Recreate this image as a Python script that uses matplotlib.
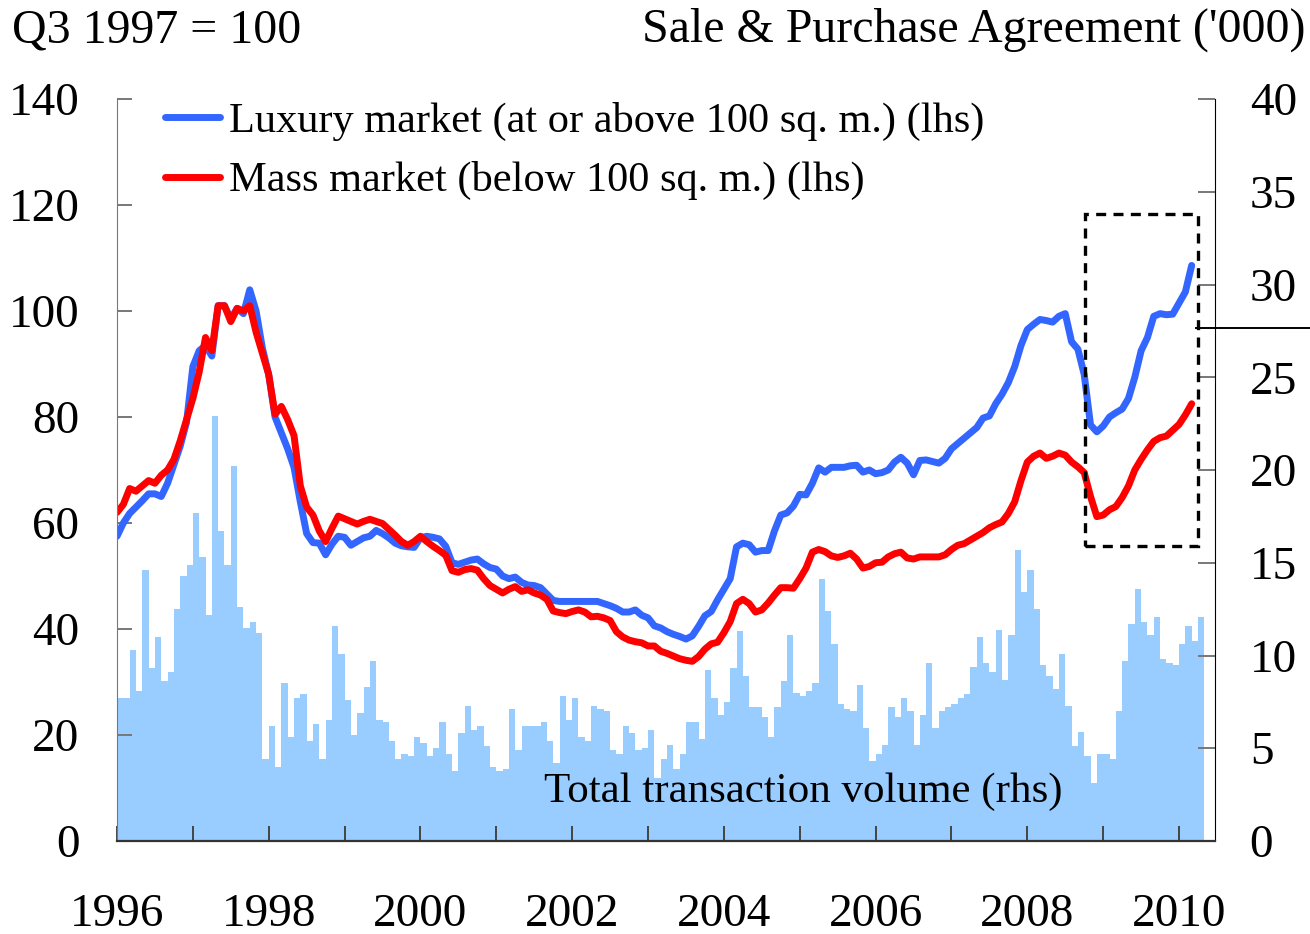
import numpy as np
import matplotlib
matplotlib.use("Agg")
import matplotlib.pyplot as plt
from matplotlib.lines import Line2D
from matplotlib.patches import Rectangle

plt.rcParams['font.family'] = ['Liberation Serif', 'DejaVu Serif']

# monthly data, Jan 1996 onwards
start_year = 1996

# Total transaction volume ('000), Jan 1996 - Apr 2010 (rhs)
volume = [
    7.7, 7.7, 10.3, 8.1, 14.6, 9.3, 11.0, 8.6, 9.1, 12.5, 14.3, 14.9,
    17.7, 15.3, 12.2, 22.9, 16.7, 14.9, 20.2, 12.6, 11.5, 11.8, 11.2, 4.4,
    6.2, 4.0, 8.5, 5.6, 7.7, 7.9, 5.4, 6.3, 4.4, 6.5, 11.6, 10.1,
    7.6, 5.7, 6.9, 8.3, 9.7, 6.5, 6.4, 5.4, 4.4, 4.7, 4.6, 5.6,
    5.3, 4.6, 5.0, 6.4, 4.7, 3.8, 5.8, 7.3, 6.0, 6.2, 5.1, 4.0,
    3.8, 3.9, 7.1, 4.9, 6.2, 6.2, 6.2, 6.4, 5.4, 4.2, 7.8, 6.5,
    7.7, 5.6, 5.4, 7.3, 7.1, 7.0, 4.9, 4.7, 6.2, 5.8, 4.9, 5.0,
    6.0, 3.4, 4.4, 5.2, 3.9, 4.7, 6.4, 6.4, 5.5, 9.2, 7.7, 6.8,
    7.5, 9.3, 11.3, 8.9, 7.2, 7.2, 6.7, 5.6, 7.2, 8.6, 11.1, 8.0,
    7.8, 8.1, 8.5, 14.1, 12.4, 10.6, 7.4, 7.1, 7.0, 8.4, 6.1, 4.3,
    4.7, 5.2, 7.2, 6.7, 7.7, 7.0, 5.2, 6.8, 9.6, 6.1, 7.0, 7.2,
    7.4, 7.7, 7.9, 9.4, 11.0, 9.6, 9.1, 11.4, 8.7, 11.1, 15.7, 13.4,
    14.6, 12.5, 9.5, 8.9, 8.2, 10.1, 7.3, 5.1, 5.9, 4.6, 3.1, 4.7,
    4.7, 4.4, 7.0, 9.7, 11.7, 13.6, 11.8, 11.1, 12.1, 9.8, 9.6, 9.5,
    10.6, 11.6, 10.8, 12.1,
]

# price indices, Q3 1997 = 100, Jan 1996 - Mar 2010 (lhs)
luxury = [
    57.5, 60, 61.8, 63, 64.2, 65.5, 65.5, 65, 67.5, 71, 74.5, 79,
    89.5, 92.5, 93.5, 91.5, 101, 101, 98.5, 100.5, 99.5, 104, 100, 93,
    88, 80, 77, 74, 70.5, 64, 58, 56.3, 56.2, 54, 56, 57.5,
    57.3, 55.8, 56.5, 57.2, 57.5, 58.6, 58, 57.2, 56.2, 55.7, 55.5, 55.4,
    57.2, 57.5, 57.3, 57, 55.6, 52.5, 52.2, 52.6, 53, 53.2, 52.3, 51.6,
    51.3, 50, 49.5, 49.8, 48.8, 48.3, 48.2, 47.8, 46.6, 45.4, 45.2, 45.2,
    45.2, 45.2, 45.2, 45.2, 45.2, 44.8, 44.4, 43.9, 43.2, 43.2, 43.6, 42.6,
    42.1, 40.6, 40.2, 39.5, 39.0, 38.6, 38.1, 38.7, 40.5, 42.5, 43.3, 45.5,
    47.5, 49.5, 55.5, 56.2, 55.9, 54.5, 54.8, 54.8, 58.5, 61.5, 61.9, 63.2,
    65.4, 65.3, 67.5, 70.4, 69.6, 70.5, 70.5, 70.5, 70.8, 70.9, 69.6, 70,
    69.3, 69.5, 70, 71.5, 72.4, 71.3, 69.1, 71.8, 71.9, 71.6, 71.3, 72.2,
    74, 75, 76, 77, 78, 79.8, 80.2, 82.5, 84.3, 86.5, 89.5, 93.5,
    96.5, 97.5, 98.4, 98.2, 97.9, 99, 99.5, 94.2, 92.8, 88, 78.5, 77.2,
    78.3, 80, 80.8, 81.5, 83.5, 87.5, 92.5, 95, 99, 99.5, 99.3, 99.4,
    101.5, 103.6, 108.6,
]
mass = [
    62, 63.5, 66.5, 66, 67, 68, 67.5, 69, 70, 72, 75.5, 79.5,
    83.5, 88.5, 95, 92.5, 101, 101, 98, 100.5, 100, 101, 96, 92,
    88, 80.5, 82, 79.5, 76.5, 67, 63, 61.5, 58.5, 56.5, 59, 61.3,
    60.8, 60.3, 59.8, 60.3, 60.7, 60.3, 59.9, 58.8, 57.7, 56.5, 55.8, 56.5,
    57.5, 56.5, 55.6, 54.8, 53.9, 51, 50.7, 51.2, 51.4, 51.1, 49.5, 48.2,
    47.5, 46.8, 47.5, 48, 47.1, 47.4, 46.8, 46.4, 45.6, 43.4, 43.1, 42.9,
    43.3, 43.6, 43.2, 42.3, 42.4, 42.1, 41.6, 39.5, 38.5, 37.9, 37.6, 37.4,
    36.8, 36.8, 35.8, 35.4, 34.9, 34.4, 34.1, 33.9, 34.8, 36.2, 37.2, 37.5,
    39.3, 41.4, 44.8, 45.6, 44.8, 43.2, 43.6, 44.9, 46.4, 47.8, 47.8, 47.7,
    49.5, 51.5, 54.5, 55, 54.6, 53.8, 53.5, 53.8, 54.3, 53.2, 51.5, 51.8,
    52.5, 52.6, 53.6, 54.2, 54.5, 53.4, 53.2, 53.6, 53.6, 53.6, 53.6, 54,
    55, 55.8, 56.1, 56.8, 57.5, 58.2, 59.1, 59.7, 60.2, 61.8, 64, 68,
    71.5, 72.6, 73.2, 72.2, 72.6, 73.2, 72.8, 71.5, 70.6, 69.5, 65, 61.2,
    61.5, 62.5, 63.1, 64.8, 67, 70, 72, 73.8, 75.4, 76.1, 76.4, 77.5,
    78.6, 80.4, 82.5,
]

x_bar = start_year + np.arange(len(volume)) / 12
x_line = start_year + np.arange(len(luxury)) / 12

fig = plt.figure(figsize=(13.1, 9.34), dpi=100)
ax = fig.add_axes([117 / 1310, 93 / 934, 1098 / 1310, 742 / 934])
ax2 = ax.twinx()

# bars on the right-hand axis, drawn behind the lines
ax2.bar(x_bar, volume, width=1 / 12, align='edge', color='#99ccff', linewidth=0)
ax2.set_ylim(0, 40)
ax2.set_yticks(range(0, 41, 5))

ax.set_zorder(ax2.get_zorder() + 1)
ax.patch.set_visible(False)

ax.plot(x_line, luxury, color='#3366ff', lw=5, solid_capstyle='round',
        solid_joinstyle='round', label='Luxury market (at or above 100 sq. m.) (lhs)')
ax.plot(x_line, mass, color='#ff0000', lw=5, solid_capstyle='round',
        solid_joinstyle='round', label='Mass market (below 100 sq. m.) (lhs)')

ax.set_ylim(0, 140)
ax.set_yticks(range(0, 141, 20))
ax.set_xlim(1996, 1996 + 1098 / 75.86)
ax.set_xticks(range(1996, 2011))
ax.set_xticklabels([str(y) if y % 2 == 0 else '' for y in range(1996, 2011)])

# dashed box around the latest rebound
ax.add_patch(Rectangle((2008.76, 55.7), 1.49, 62.6, fill=False, ec='black',
                       lw=2.4, ls=(0, (3, 2.2)), zorder=5))

ax.text(0.625, 0.066, 'Total transaction volume (rhs)', transform=ax.transAxes,
        ha='center', va='center', fontsize=31)

ax.legend(loc='upper left', bbox_to_anchor=(0.044, 0.996), frameon=False,
          fontsize=30.5, handlelength=1.3, handletextpad=0.2,
          labelspacing=0.48, borderpad=0, borderaxespad=0)

for s in ['top']:
    ax.spines[s].set_visible(False)
    ax2.spines[s].set_visible(False)
ax.spines['left'].set_color('#777777')
ax2.spines['left'].set_visible(False)
ax.spines['right'].set_visible(False)
ax2.spines['right'].set_color('black')
ax2.spines['bottom'].set_visible(False)
ax.spines['bottom'].set_color('#333333')
ax.spines['bottom'].set_linewidth(1.6)

ax.tick_params(axis='y', direction='in', length=11, width=1.4, color='#777777',
               labelsize=34, pad=27)
ax.tick_params(axis='x', direction='in', length=11, width=1.4, color='#444444',
               labelsize=34, pad=38)
ax2.tick_params(axis='y', direction='in', length=12, width=1.4, color='#777777',
                labelsize=34, pad=25)

fig.text(12 / 1310, 1 - 30 / 934, 'Q3 1997 = 100', ha='left', va='center', fontsize=34.5)
fig.text(1305 / 1310, 1 - 30 / 934, "Sale & Purchase Agreement ('000)",
         ha='right', va='center', fontsize=34.5)

# stray rule on the right edge of the original
fig.add_artist(Line2D([1196 / 1310, 1.0], [1 - 328 / 934] * 2, color='black', lw=1.4))

fig.savefig('out.png', dpi=100)
